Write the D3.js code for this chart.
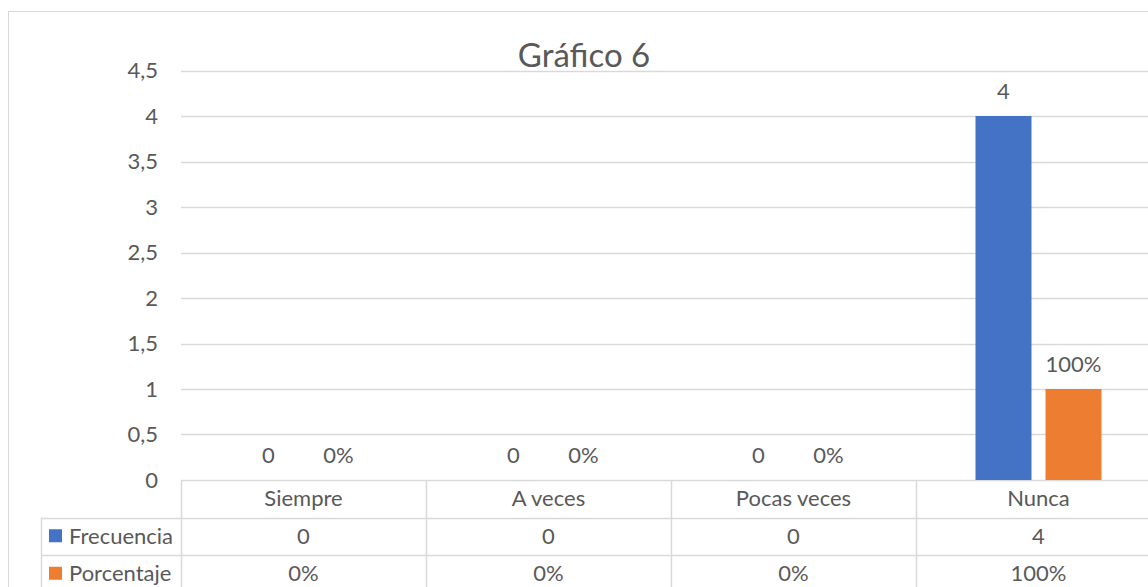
<!DOCTYPE html>
<html>
<head>
<meta charset="utf-8">
<script src="https://cdn.jsdelivr.net/npm/d3@7"></script>
<style>
  body { margin: 0; background: #fff; }
  text { font-family: Lato, "Open Sans", sans-serif; fill: #595959; }
</style>
</head>
<body>
<div id="chart"></div>
<script>
// data
const categories = ["Siempre", "A veces", "Pocas veces", "Nunca"];
const seriesNames = ["Frecuencia", "Porcentaje"];
const frecuencia = [0, 0, 0, 4];
const porcentaje = [0, 0, 0, 1];
const seriesColors = ["#4472c4", "#ed7d31"];
const title = "Gráfico 6";

const width = 1148, height = 587;
const plot = {left: 181, right: 1161, top: 70.5, bottom: 480};
const rowH = 37.5;
const tableLeft = 41;
const fs = "22px";

const locale = d3.formatLocale({decimal: ",", thousands: ".", grouping: [3], currency: ["", "€"]});
const fmtTick = locale.format("~g");
const fmtPct = locale.format(".0%");

const svg = d3.select("#chart").append("svg")
    .attr("width", width)
    .attr("height", height);

// outer chart border
svg.append("rect")
    .attr("x", 8.5).attr("y", 11.5)
    .attr("width", 1200).attr("height", 700)
    .attr("fill", "none")
    .attr("stroke", "#d9d9d9");

const x = d3.scaleBand()
    .domain(categories)
    .range([plot.left, plot.right])
    .padding(0);

const xs = d3.scaleBand()
    .domain(seriesNames)
    .range([0, x.bandwidth()])
    .paddingInner(0.2)
    .paddingOuter(0.85);

const y = d3.scaleLinear()
    .domain([0, 4.5])
    .range([plot.bottom, plot.top]);

const yTicks = d3.range(0, 4.51, 0.5);

// gridlines
svg.append("g")
    .selectAll("line")
    .data(yTicks)
    .enter().append("line")
    .attr("x1", plot.left)
    .attr("x2", width + 20)
    .attr("y1", d => Math.round(y(d)) + 0.5)
    .attr("y2", d => Math.round(y(d)) + 0.5)
    .attr("stroke", "#d9d9d9")
    .attr("stroke-width", 1.5);

// y tick labels
svg.append("g")
    .selectAll("text")
    .data(yTicks)
    .enter().append("text")
    .attr("x", 158)
    .attr("y", d => y(d))
    .attr("dy", "0.35em")
    .attr("text-anchor", "end")
    .style("font-size", fs)
    .text(d => fmtTick(d));

// title
svg.append("text")
    .attr("x", 584)
    .attr("y", 67)
    .attr("text-anchor", "middle")
    .style("font-size", "33px")
    .text(title);

// bars
const rows = categories.map((c, i) => ({cat: c, values: [frecuencia[i], porcentaje[i]]}));

const groups = svg.append("g")
    .selectAll("g")
    .data(rows)
    .enter().append("g")
    .attr("transform", d => `translate(${x(d.cat)},0)`);

groups.selectAll("rect")
    .data(d => d.values.map((v, j) => ({s: seriesNames[j], v: v, j: j})))
    .enter().append("rect")
    .attr("x", d => xs(d.s))
    .attr("y", d => y(d.v))
    .attr("width", xs.bandwidth())
    .attr("height", d => y(0) - y(d.v))
    .attr("fill", d => seriesColors[d.j]);

groups.selectAll("text")
    .data(d => d.values.map((v, j) => ({s: seriesNames[j], v: v, j: j})))
    .enter().append("text")
    .attr("x", d => xs(d.s) + xs.bandwidth() / 2)
    .attr("y", d => y(d.v) - 17)
    .attr("text-anchor", "middle")
    .style("font-size", fs)
    .text(d => d.j === 0 ? d.v : fmtPct(d.v));

// data table
const table = svg.append("g");
const lineColor = "#d9d9d9";

// horizontal row lines
[plot.bottom + rowH, plot.bottom + 2 * rowH].forEach(yy => {
    table.append("line")
        .attr("x1", tableLeft).attr("x2", width + 20)
        .attr("y1", Math.round(yy) + 0.5).attr("y2", Math.round(yy) + 0.5)
        .attr("stroke", lineColor).attr("stroke-width", 1.5);
});

// vertical lines
table.selectAll("line.v")
    .data(categories)
    .enter().append("line")
    .attr("class", "v")
    .attr("x1", d => x(d) + 0.5).attr("x2", d => x(d) + 0.5)
    .attr("y1", plot.bottom).attr("y2", height + 10)
    .attr("stroke", lineColor).attr("stroke-width", 1.5);

table.append("line")
    .attr("x1", tableLeft + 0.5).attr("x2", tableLeft + 0.5)
    .attr("y1", plot.bottom + rowH).attr("y2", height + 10)
    .attr("stroke", lineColor).attr("stroke-width", 1.5);

// header row
table.selectAll("text.cat")
    .data(categories)
    .enter().append("text")
    .attr("class", "cat")
    .attr("x", d => x(d) + x.bandwidth() / 2)
    .attr("y", plot.bottom + rowH / 2)
    .attr("dy", "0.35em")
    .attr("text-anchor", "middle")
    .style("font-size", fs)
    .text(d => d);

// series rows
const seriesData = [frecuencia, porcentaje];
seriesNames.forEach((name, j) => {
    const cy = plot.bottom + rowH * (j + 1) + rowH / 2;
    table.append("rect")
        .attr("x", 49).attr("y", cy - 7)
        .attr("width", 13).attr("height", 13)
        .attr("fill", seriesColors[j]);
    table.append("text")
        .attr("x", 69).attr("y", cy)
        .attr("dy", "0.35em")
        .style("font-size", fs)
        .text(name);
    table.selectAll("text.s" + j)
        .data(seriesData[j])
        .enter().append("text")
        .attr("class", "s" + j)
        .attr("x", (d, i) => x(categories[i]) + x.bandwidth() / 2)
        .attr("y", cy)
        .attr("dy", "0.35em")
        .attr("text-anchor", "middle")
        .style("font-size", fs)
        .text(d => j === 0 ? d : fmtPct(d));
});
</script>
</body>
</html>
